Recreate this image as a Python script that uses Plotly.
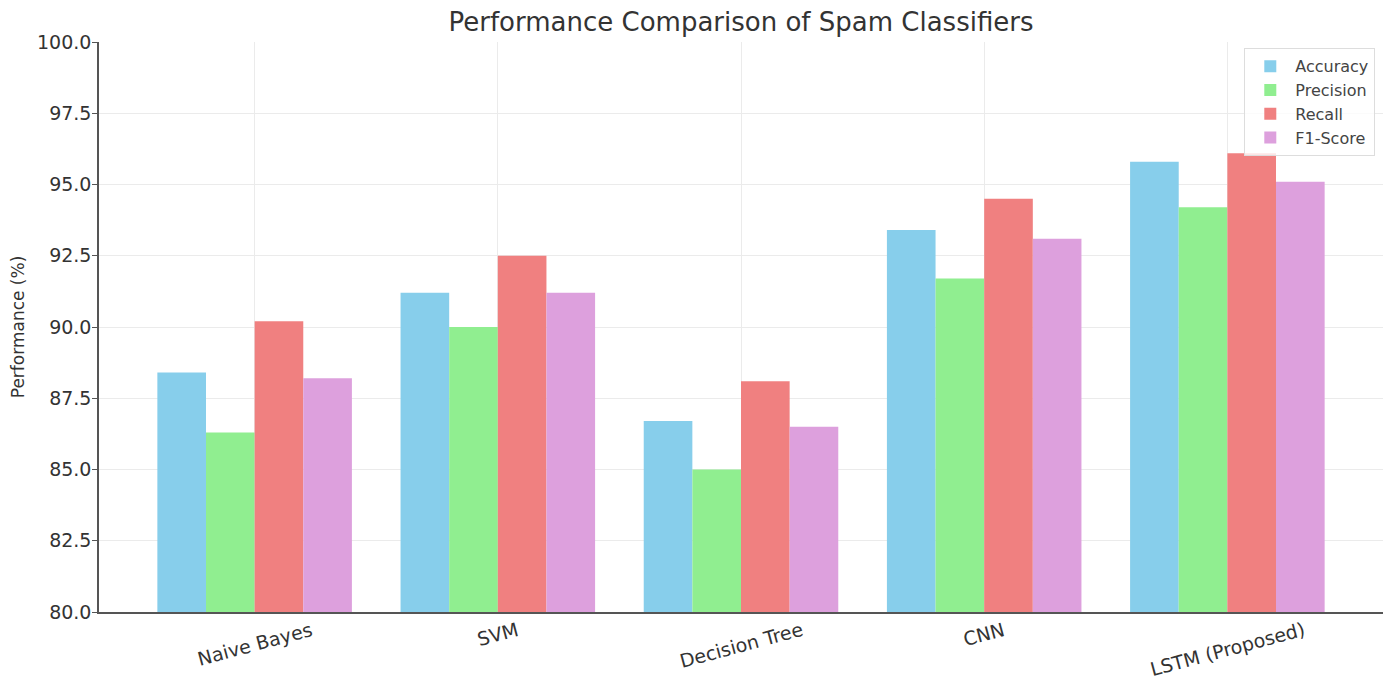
import plotly.graph_objects as go

models = ["Naive Bayes", "SVM", "Decision Tree", "CNN", "LSTM (Proposed)"]
accuracy = [88.4, 91.2, 86.7, 93.4, 95.8]
precision = [86.3, 90.0, 85.0, 91.7, 94.2]
recall = [90.2, 92.5, 88.1, 94.5, 96.1]
f1_score = [88.2, 91.2, 86.5, 93.1, 95.1]

series = [
    ("Accuracy", accuracy, "#87CEEB"),
    ("Precision", precision, "#90EE90"),
    ("Recall", recall, "#F08080"),
    ("F1-Score", f1_score, "#DDA0DD"),
]

fig = go.Figure()
for name, vals, color in series:
    fig.add_trace(go.Bar(x=models, y=vals, name=name, marker=dict(color=color, line=dict(width=0))))

font_family = "DejaVu Sans, sans-serif"

for m in models:
    fig.add_annotation(x=m, y=-0.006, xref="x", yref="paper", text=m, showarrow=False,
                       textangle=-15, xanchor="center", yanchor="top",
                       font=dict(size=19, color="#333333"))

fig.update_layout(
    width=1383, height=671,
    paper_bgcolor="white", plot_bgcolor="white",
    barmode="group", bargap=0.2, bargroupgap=0,
    margin=dict(l=91, r=8, t=34, b=67),
    font=dict(family=font_family, color="#333333"),
    title=dict(text="Performance Comparison of Spam Classifiers", x=0.5, xref="paper", xanchor="center",
               y=0.979, yanchor="middle", font=dict(size=26, color="#333333")),
    legend=dict(x=0.994, y=0.989, xanchor="right", yanchor="top", bgcolor="rgba(255,255,255,0.8)",
                bordercolor="#dddddd", borderwidth=1, font=dict(size=16, color="#444444"),
                traceorder="normal", itemwidth=40),
    xaxis=dict(range=[-0.64, 4.64], showticklabels=False,
               showgrid=True, gridcolor="#ebebeb", showline=True, linecolor="#555555", linewidth=1.5,
               ticks="", zeroline=False, automargin=False),
    yaxis=dict(range=[80, 100], tick0=80, dtick=2.5, tickformat=".1f", tickfont=dict(size=19),
               showgrid=True, gridcolor="#ebebeb", showline=True, linecolor="#555555", linewidth=1.5,
               ticks="outside", ticklen=5, tickcolor="#555555", zeroline=False, automargin=False,
               ticklabelstandoff=-3,
               title=dict(text="Performance (%)", font=dict(size=17), standoff=14)),
)

fig.write_html("out.html")
